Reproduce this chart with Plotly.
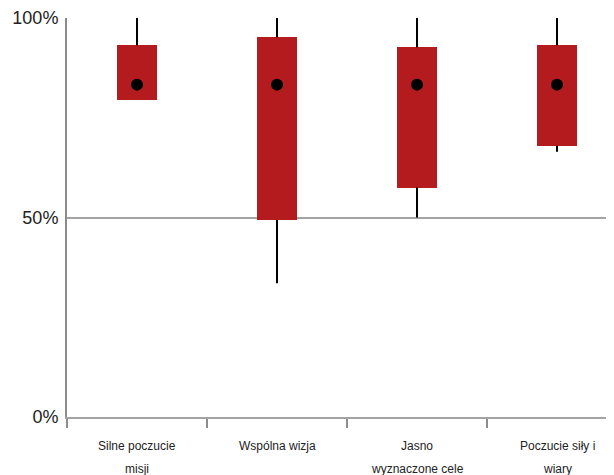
import plotly.graph_objects as go

categories = ["Silne poczucie", "Wspólna wizja", "Jasno", "Poczucie siły i"]
categories_line2 = ["misji", "", "wyznaczone cele", "wiary"]
whisker_low = [79.5, 33.5, 50.0, 66.5]
q1 = [79.5, 49.4, 57.5, 68.0]
median = [83.3, 83.3, 83.3, 83.3]
q3 = [93.2, 95.2, 92.7, 93.2]
whisker_high = [100.0, 100.0, 100.0, 100.0]
y_ticks = [0, 50, 100]
y_tick_text = ["0%", "50%", "100%"]

xs = list(range(len(categories)))
box_color = "#B41B1F"
grid_color = "#A3A3A3"
axis_color = "#8C8C8C"

FIG_W = 606
LEFT = 59
PX_PER_CAT = 140

fig = go.Figure()

# boxes
fig.add_trace(go.Bar(
    x=xs, y=[b - a for a, b in zip(q1, q3)], base=q1,
    width=0.29, marker=dict(color=box_color, line=dict(width=0)),
    hoverinfo="skip", showlegend=False,
))

# whiskers (outside the boxes)
wx, wy = [], []
for i in xs:
    wx += [i, i, None, i, i, None]
    wy += [q3[i], whisker_high[i], None, whisker_low[i], q1[i], None]
fig.add_trace(go.Scatter(
    x=wx, y=wy, mode="lines", line=dict(color="black", width=2),
    hoverinfo="skip", showlegend=False, cliponaxis=False,
))

# medians
fig.add_trace(go.Scatter(
    x=xs, y=median, mode="markers",
    marker=dict(color="black", size=12),
    showlegend=False,
))

for i, (l1, l2) in enumerate(zip(categories, categories_line2)):
    fig.add_annotation(x=i, xref="x", y=0, yref="paper", text=l1,
                       showarrow=False, yanchor="middle", yshift=-29,
                       font=dict(size=12, color="#222222"))
    if l2:
        fig.add_annotation(x=i, xref="x", y=0, yref="paper", text=l2,
                           showarrow=False, yanchor="middle", yshift=-52,
                           font=dict(size=12, color="#222222"))

fig.update_layout(
    width=FIG_W, height=467,
    margin=dict(l=LEFT, r=0, t=10, b=58),
    paper_bgcolor="white", plot_bgcolor="white",
    font=dict(family="Liberation Sans, Arial, sans-serif", color="#222222"),
    xaxis=dict(
        range=[-0.5, -0.5 + (FIG_W - LEFT) / PX_PER_CAT],
        tickvals=[-0.5, 0.5, 1.5, 2.5, 3.5],
        showticklabels=False,
        ticks="outside", ticklen=9, tickwidth=2, tickcolor=axis_color,
        showgrid=False, zeroline=False,
        showline=True, linecolor=grid_color, linewidth=2,
        fixedrange=True,
    ),
    yaxis=dict(
        range=[0, 100],
        tickvals=y_ticks, ticktext=y_tick_text,
        tickfont=dict(size=18, color="#222222"),
        ticks="", ticklabelstandoff=3,
        showgrid=True, gridcolor=grid_color, gridwidth=2,
        zeroline=False,
        showline=True, linecolor=axis_color, linewidth=2,
        fixedrange=True,
    ),
    bargap=0,
)

fig.write_html("out.html")
